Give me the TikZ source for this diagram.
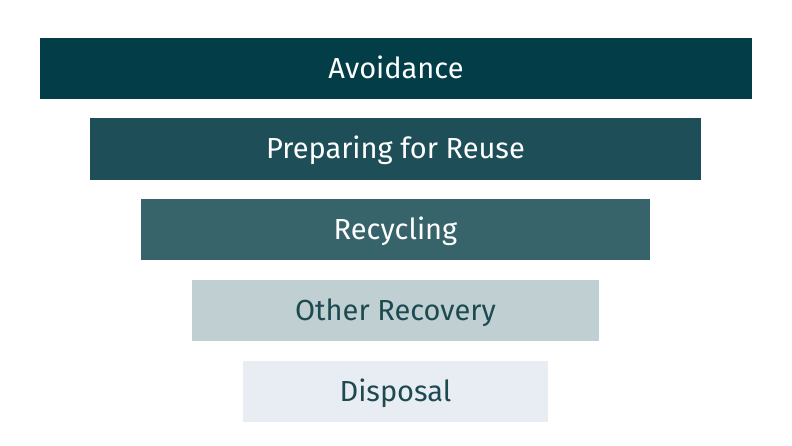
\documentclass[tikz,border=0pt]{standalone}
\usepackage{fontspec}
\setmainfont{Fira Sans}
\definecolor{cA}{HTML}{033D47}
\definecolor{cB}{HTML}{1E4F58}
\definecolor{cC}{HTML}{37646B}
\definecolor{cD}{HTML}{BFCFD2}
\definecolor{cE}{HTML}{E8EDF3}
\definecolor{tdark}{HTML}{1D4A50}
\begin{document}
\begin{tikzpicture}[x=1pt,y=-1pt,
  tier/.style={inner sep=0pt, outer sep=0pt, anchor=base, font=\fontsize{29}{33}\selectfont},
  tierdark/.style={tier, text=white},
  tierlight/.style={tier, text=tdark}]
\useasboundingbox (0,0) rectangle (792,446);
\fill[cA] (40,38) rectangle (752,99);
\fill[cB] (90,118) rectangle (701,180);
\fill[cC] (141,199) rectangle (650,260);
\fill[cD] (192,280) rectangle (599,341);
\fill[cE] (243,361) rectangle (548,422);
\node[tierdark] (t1) at (396,78.5) {Avoidance};
\node[tierdark] (t2) at (395.5,159) {Preparing for Reuse};
\node[tierdark] (t3) at (395.5,239.5) {Recycling};
\node[tierlight] (t4) at (395.5,320.5) {Other Recovery};
\node[tierlight] (t5) at (395.5,401.5) {Disposal};
\end{tikzpicture}
\end{document}
